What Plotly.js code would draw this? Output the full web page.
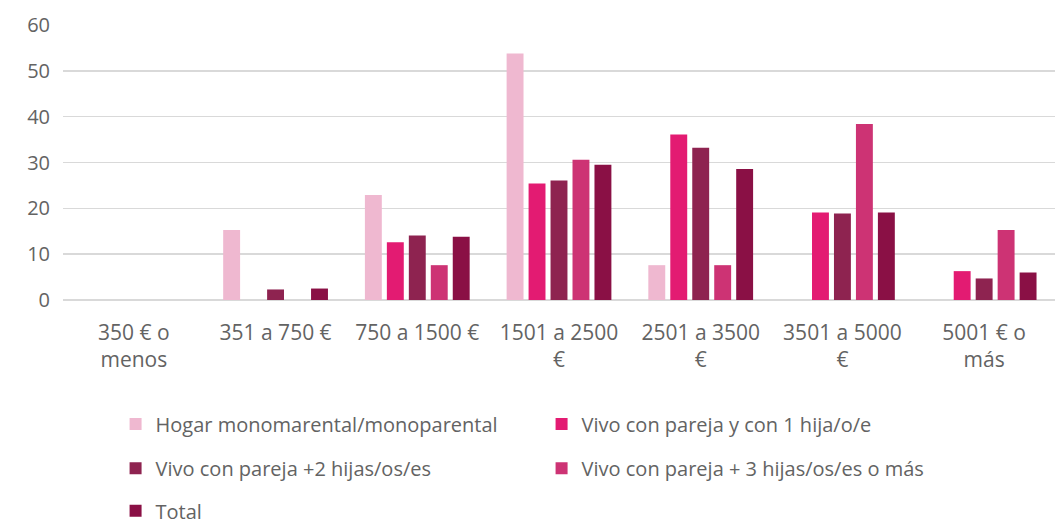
<!DOCTYPE html>
<html>
<head>
<meta charset="utf-8">
<script src="https://cdn.plot.ly/plotly-3.0.1.min.js"></script>
<style>html,body{margin:0;padding:0;background:#fff;}#chart{width:1057px;height:526px;}</style>
</head>
<body>
<div id="chart"></div>
<script>
const categories = ["350 € o<br>menos", "351 a 750 €", "750 a 1500 €", "1501 a 2500<br>€", "2501 a 3500<br>€", "3501 a 5000<br>€", "5001 € o<br>más"];
const seriesNames = ["Hogar monomarental/monoparental", "Vivo con pareja y con 1 hija/o/e", "Vivo con pareja +2 hijas/os/es", "Vivo con pareja + 3 hijas/os/es o más", "Total"];
const hogar = [0, 15.3, 22.9, 53.8, 7.6, 0, 0];
const pareja1 = [0, 0, 12.6, 25.4, 36.1, 19.1, 6.3];
const pareja2 = [0, 2.3, 14.1, 26.1, 33.2, 18.9, 4.7];
const pareja3 = [0, 0, 7.6, 30.6, 7.6, 38.4, 15.3];
const total = [0, 2.5, 13.8, 29.5, 28.6, 19.1, 6.0];
const yTicks = [0, 10, 20, 30, 40, 50, 60];

const colors = ["#EFB8D0", "#E31B72", "#8E2350", "#CD3374", "#8A1045"];
const values = [hogar, pareja1, pareja2, pareja3, total];
const legendIds = ["legend", "legend", "legend2", "legend2", "legend3"];

const traces = values.map((v, i) => ({
  type: "bar",
  name: seriesNames[i],
  x: categories,
  y: v,
  marker: {color: colors[i], line: {width: 0}},
  legend: legendIds[i],
  hoverinfo: "x+y+name"
}));

const gray = "#636363";
const fontFam = "'Open Sans', Lato, sans-serif";
const legendBase = {
  orientation: "h",
  x: 0.053, xanchor: "left",
  yref: "container",
  yanchor: "middle",
  font: {family: fontFam, size: 20, color: gray},
  entrywidth: 381, entrywidthmode: "pixels",
  itemwidth: 30,
  bgcolor: "rgba(0,0,0,0)",
  traceorder: "normal"
};

const layout = {
  width: 1057, height: 526,
  margin: {l: 63, r: 2, t: 25, b: 226, autoexpand: false},
  paper_bgcolor: "#fff", plot_bgcolor: "#fff",
  font: {family: fontFam, size: 20, color: gray},
  barmode: "group",
  bargap: 0.225,
  bargroupgap: 0.23,
  xaxis: {
    type: "category",
    tickfont: {size: 21, color: gray},
    showgrid: false, showline: false, ticks: "",
    ticklabelstandoff: 18
  },
  yaxis: {
    range: [0, 60],
    tickvals: yTicks,
    ticktext: yTicks.map(String),
    tickfont: {size: 20, color: gray},
    gridcolor: "#d9d9d9", gridwidth: 1.5,
    zeroline: true, zerolinecolor: "#d9d9d9", zerolinewidth: 1.5,
    showline: false, ticks: "",
    ticklabelstandoff: 12
  },
  showlegend: true,
  legend: Object.assign({}, legendBase, {y: 0.194}),
  legend2: Object.assign({}, legendBase, {y: 0.110}),
  legend3: Object.assign({}, legendBase, {y: 0.029})
};

Plotly.newPlot("chart", traces, layout, {displayModeBar: false, staticPlot: true});
</script>
</body>
</html>
